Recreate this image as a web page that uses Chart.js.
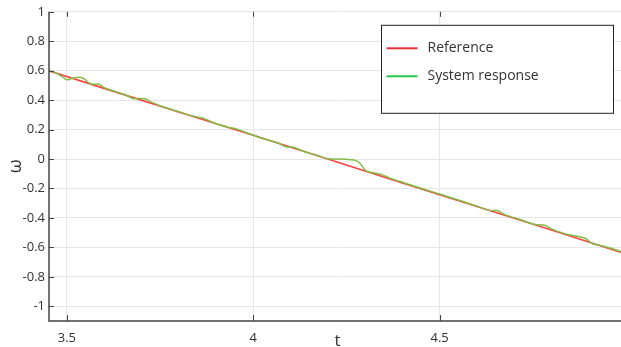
<!DOCTYPE html>
<html>
<head>
<meta charset="utf-8">
<script src="https://cdn.jsdelivr.net/npm/chart.js@4.4.1/dist/chart.umd.min.js"></script>
<style>
  html, body { margin: 0; padding: 0; background: #fff; overflow: hidden; }
  #wrap { width: 621px; height: 347px; overflow: hidden; }
</style>
</head>
<body>
<div id="wrap"><canvas id="chart" width="640" height="347"></canvas></div>
<script>
// reference signal
const refT = [3.45, 3.6, 3.8, 4.0, 4.2, 4.4, 4.6, 4.8, 5.0];
const refW = [0.600, 0.480, 0.320, 0.162, 0.000, -0.162, -0.322, -0.482, -0.645];

// system response (small wiggles + flat spot near t = 4.2..4.28)
const sysT = [3.45, 3.47, 3.49, 3.50, 3.515, 3.53, 3.545, 3.56, 3.575, 3.585,
              3.60, 3.63, 3.66, 3.68, 3.695, 3.71, 3.725, 3.76, 3.80, 3.84,
              3.86, 3.875, 3.89, 3.93, 3.96, 3.975, 4.00, 4.04, 4.07, 4.09,
              4.105, 4.12, 4.15, 4.18, 4.20, 4.22, 4.25, 4.27, 4.285, 4.30,
              4.32, 4.345, 4.365, 4.40, 4.45, 4.50, 4.55, 4.60, 4.64, 4.655,
              4.67, 4.72, 4.76, 4.78, 4.80, 4.84, 4.87, 4.89, 4.91, 4.93,
              4.96, 5.00];
const sysW = [0.605, 0.585, 0.555, 0.538, 0.548, 0.555, 0.547, 0.515, 0.508, 0.510,
              0.485, 0.458, 0.433, 0.410, 0.412, 0.410, 0.388, 0.353, 0.322, 0.290,
              0.280, 0.268, 0.250, 0.218, 0.200, 0.185, 0.162, 0.128, 0.106, 0.082,
              0.082, 0.068, 0.040, 0.018, 0.002, 0.000, -0.002, -0.006, -0.025, -0.075,
              -0.092, -0.106, -0.128, -0.158, -0.198, -0.238, -0.278, -0.320, -0.350, -0.350,
              -0.372, -0.414, -0.446, -0.448, -0.474, -0.510, -0.525, -0.538, -0.575, -0.585,
              -0.606, -0.642];

const xTicks = [3.5, 4, 4.5, 5];
const yTicks = [-1, -0.8, -0.6, -0.4, -0.2, 0, 0.2, 0.4, 0.6, 0.8, 1];

const seriesNames = ['Reference', 'System response'];
const legendColors = ['#e8303a', '#22c94a'];

Chart.defaults.font.family = 'Open Sans';
Chart.defaults.color = '#333';

// axes box, inward ticks and the boxed legend
const frame = {
    id: 'frame',
    afterDraw(chart) {
        const { ctx, chartArea: a, scales: { x, y } } = chart;
        ctx.save();
        ctx.strokeStyle = '#444';
        ctx.lineWidth = 1.5;
        ctx.beginPath();
        ctx.moveTo(a.left, a.top);
        ctx.lineTo(a.left, a.bottom);
        ctx.lineTo(a.right, a.bottom);
        ctx.lineTo(a.right, a.top);
        ctx.stroke();

        ctx.lineWidth = 1;
        ctx.beginPath();
        yTicks.forEach(v => {
            const py = Math.round(y.getPixelForValue(v)) + 0.5;
            ctx.moveTo(a.left, py); ctx.lineTo(a.left + 5, py);
            ctx.moveTo(a.right, py); ctx.lineTo(a.right - 5, py);
        });
        xTicks.forEach(v => {
            const px = Math.round(x.getPixelForValue(v)) + 0.5;
            ctx.moveTo(px, a.bottom); ctx.lineTo(px, a.bottom - 6);
            ctx.moveTo(px, a.top); ctx.lineTo(px, a.top + 5);
        });
        ctx.stroke();

        // legend
        const lx = a.left + 332.5, ly = a.top + 13.5, lw = 232, lh = 88;
        ctx.fillStyle = '#fff';
        ctx.fillRect(lx, ly, lw, lh);
        ctx.strokeStyle = '#222';
        ctx.strokeRect(lx, ly, lw, lh);
        ctx.font = '14px "Open Sans"';
        ctx.textBaseline = 'middle';
        seriesNames.forEach((name, i) => {
            const yy = ly + 23 + i * 28;
            ctx.strokeStyle = legendColors[i];
            ctx.lineWidth = 2;
            ctx.beginPath();
            ctx.moveTo(lx + 5, yy); ctx.lineTo(lx + 36, yy);
            ctx.stroke();
            ctx.fillStyle = '#333';
            ctx.fillText(name, lx + 46, yy);
        });
        ctx.restore();
    }
};

new Chart(document.getElementById('chart'), {
    type: 'line',
    data: {
        datasets: [
            {
                label: seriesNames[0],
                data: refT.map((t, i) => ({ x: t, y: refW[i] })),
                borderColor: '#ff4040',
                borderWidth: 1.6,
                pointRadius: 0,
                order: 1,
            },
            {
                label: seriesNames[1],
                data: sysT.map((t, i) => ({ x: t, y: sysW[i] })),
                borderColor: '#84bd48',
                borderWidth: 1.5,
                pointRadius: 0,
                cubicInterpolationMode: 'monotone',
                order: 0,
            },
        ],
    },
    options: {
        responsive: false,
        animation: false,
        devicePixelRatio: 1,
        layout: { padding: { top: 11, right: 14, left: 0, bottom: 0 } },
        plugins: {
            legend: { display: false },
            tooltip: { enabled: false },
        },
        scales: {
            x: {
                type: 'linear',
                min: 3.452,
                max: 5,
                afterBuildTicks: (s) => { s.ticks = xTicks.map(v => ({ value: v })); },
                afterFit: (s) => { s.height = 26; },
                ticks: { font: { size: 13 }, padding: 9, maxRotation: 0, color: '#333',
                         callback: (v) => String(v) },
                grid: { color: '#e6e6e6', drawTicks: false },
                border: { display: false },
                title: { display: true, text: 't', font: { size: 17, lineHeight: 1 },
                         padding: { top: 0, bottom: -3 }, color: '#333' },
            },
            y: {
                min: -1.1,
                max: 1,
                afterBuildTicks: (s) => { s.ticks = yTicks.map(v => ({ value: v })); },
                afterFit: (s) => { s.width = 49; },
                ticks: { font: { size: 13 }, padding: 4, color: '#333',
                         callback: (v) => String(Math.round(v * 10) / 10) },
                grid: { color: '#e6e6e6', drawTicks: false },
                border: { display: false },
                title: { display: true, text: 'ω', font: { size: 18 }, padding: 5, color: '#333' },
            },
        },
    },
    plugins: [frame],
});
</script>
</body>
</html>
